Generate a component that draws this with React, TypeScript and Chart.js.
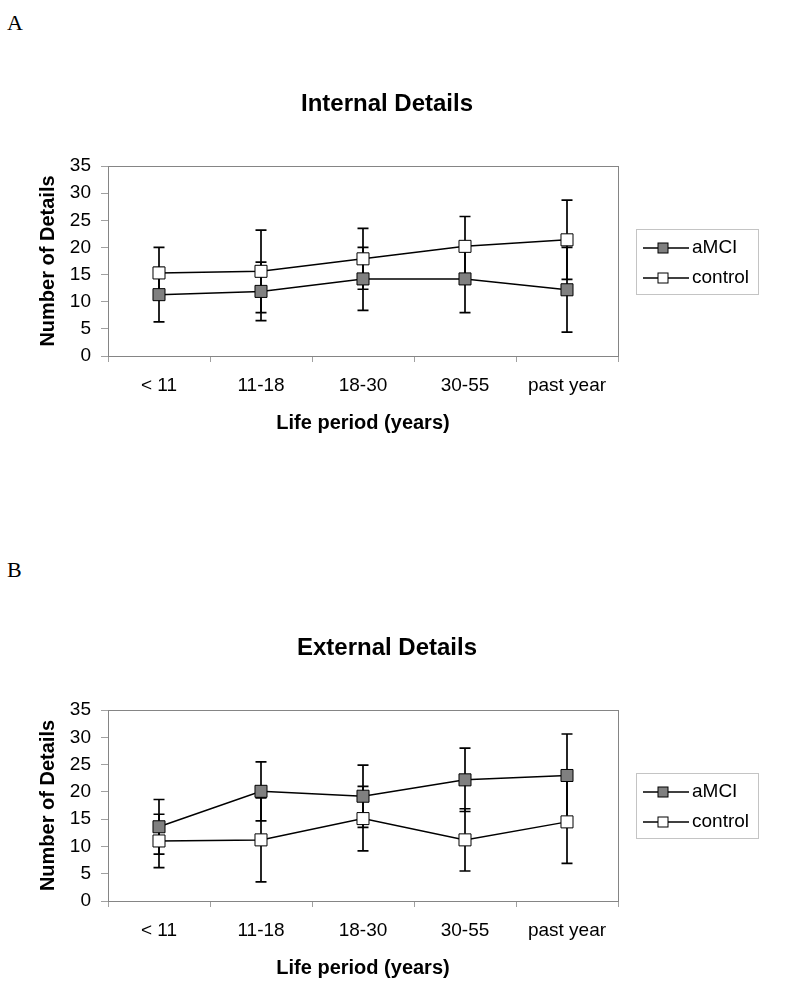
import React, { useEffect, useRef } from 'react';
import { Chart, registerables } from 'chart.js';

Chart.register(...registerables);

const FONT = '"Liberation Sans", Arial, Helvetica, sans-serif';

// ---- data ----
const categories = ['< 11', '11-18', '18-30', '30-55', 'past year'];
const seriesNames = ['aMCI', 'control'];

const internalAmci = [11.3, 11.9, 14.2, 14.2, 12.2];
const internalAmciErr = [5.0, 5.4, 5.8, 6.2, 7.8];
const internalControl = [15.3, 15.6, 17.9, 20.2, 21.4];
const internalControlErr = [4.7, 7.6, 5.6, 5.5, 7.3];

const externalAmci = [13.6, 20.1, 19.2, 22.2, 23.0];
const externalAmciErr = [5.0, 5.4, 5.7, 5.8, 7.6];
const externalControl = [11.0, 11.2, 15.1, 11.2, 14.5];
const externalControlErr = [4.9, 7.7, 5.9, 5.7, 7.6];

const yMin = 0;
const yMax = 35;
const yStep = 5;

// ---- layout ----
const WIDTH = 785;
const PLOT_LEFT = 108;
const PLOT_RIGHT = 618;
const TITLE_X = 387;

const decoPlugin = {
  id: 'deco',
  beforeDatasetsDraw(chart: any) {
    const { ctx, chartArea } = chart;
    const yScale = chart.scales.y;
    // plot frame
    ctx.save();
    ctx.strokeStyle = '#858585';
    ctx.lineWidth = 1;
    ctx.strokeRect(
      Math.round(chartArea.left) + 0.5,
      Math.round(chartArea.top) + 0.5,
      Math.round(chartArea.right - chartArea.left),
      Math.round(chartArea.bottom - chartArea.top)
    );
    ctx.restore();
    // error bars (under the lines and markers)
    chart.data.datasets.forEach((ds: any, di: number) => {
      const meta = chart.getDatasetMeta(di);
      meta.data.forEach((pt: any, i: number) => {
        const v = ds.data[i];
        const e = ds.errors[i];
        const x = pt.x;
        const yHi = yScale.getPixelForValue(v + e);
        const yLo = yScale.getPixelForValue(v - e);
        ctx.save();
        ctx.strokeStyle = '#000';
        ctx.lineWidth = 1.7;
        ctx.beginPath();
        ctx.moveTo(x, yHi);
        ctx.lineTo(x, yLo);
        ctx.moveTo(x - 5.5, yHi);
        ctx.lineTo(x + 5.5, yHi);
        ctx.moveTo(x - 5.5, yLo);
        ctx.lineTo(x + 5.5, yLo);
        ctx.stroke();
        ctx.restore();
      });
    });
  },
  afterDraw(chart: any, _args: any, opts: any) {
    const { ctx, chartArea } = chart;
    // chart title
    ctx.save();
    ctx.fillStyle = '#000';
    ctx.font = `bold 24px ${FONT}`;
    ctx.textAlign = 'center';
    ctx.textBaseline = 'middle';
    ctx.fillText(opts.title, TITLE_X, chartArea.top - 62);
    ctx.restore();
    // legend
    const bx = Math.round(chartArea.right) + 18;
    const by = Math.round(chartArea.top) + 63;
    const bw = 122;
    const bh = 65;
    ctx.save();
    ctx.strokeStyle = '#c4c4c4';
    ctx.lineWidth = 1;
    ctx.strokeRect(bx + 0.5, by + 0.5, bw, bh);
    const rows = [19, 49];
    chart.data.datasets.forEach((ds: any, di: number) => {
      const y = by + rows[di];
      ctx.strokeStyle = '#000';
      ctx.lineWidth = 1.4;
      ctx.beginPath();
      ctx.moveTo(bx + 7, y);
      ctx.lineTo(bx + 53, y);
      ctx.stroke();
      ctx.fillStyle = ds.pointBackgroundColor;
      ctx.fillRect(bx + 22, y - 5, 10, 10);
      ctx.lineWidth = 1;
      ctx.strokeRect(bx + 22, y - 5, 10, 10);
      ctx.fillStyle = '#000';
      ctx.font = `19px ${FONT}`;
      ctx.textAlign = 'left';
      ctx.textBaseline = 'middle';
      ctx.fillText(ds.label, bx + 56, y);
    });
    ctx.restore();
  },
};

type PanelProps = {
  top: number;
  height: number;
  plotTop: number;
  plotBottom: number;
  xTitleY: number;
  title: string;
  amci: number[];
  amciErr: number[];
  control: number[];
  controlErr: number[];
};

function Panel(p: PanelProps) {
  const ref = useRef<HTMLCanvasElement | null>(null);
  useEffect(() => {
    if (!ref.current) return;
    const relTop = p.plotTop - p.top;
    const xAxisH = p.top + p.height - p.plotBottom;
    const xTitleLh = 24;
    const xTitlePadBottom = p.top + p.height - p.xTitleY - xTitleLh / 2;
    const makeDs = (label: string, data: number[], errors: number[], fill: string) =>
      ({
        label,
        data,
        errors,
        borderColor: '#000',
        borderWidth: 1.5,
        pointStyle: 'rect',
        pointRadius: 8.5,
        pointBackgroundColor: fill,
        pointBorderColor: '#000',
        pointBorderWidth: 1,
        tension: 0,
        fill: false,
      } as any);
    const chart = new Chart(ref.current, {
      type: 'line',
      data: {
        labels: categories,
        datasets: [
          makeDs(seriesNames[0], p.amci, p.amciErr, '#808080'),
          makeDs(seriesNames[1], p.control, p.controlErr, '#ffffff'),
        ],
      },
      options: {
        responsive: false,
        animation: false,
        events: [],
        layout: {
          padding: { top: relTop, left: 0, right: WIDTH - PLOT_RIGHT, bottom: 0 },
        },
        plugins: {
          legend: { display: false },
          title: { display: false },
          tooltip: { enabled: false },
          deco: { title: p.title },
        } as any,
        scales: {
          x: {
            type: 'category',
            offset: true,
            grid: {
              offset: true,
              drawOnChartArea: false,
              drawTicks: true,
              tickLength: 6,
              color: '#a0a0a0',
            },
            border: { display: false },
            ticks: {
              color: '#000',
              font: { family: FONT, size: 19 },
              padding: 12,
              maxRotation: 0,
              autoSkip: false,
            },
            title: {
              display: true,
              text: 'Life period (years)',
              color: '#000',
              font: { family: FONT, size: 20, weight: 'bold' },
              padding: { top: 0, bottom: xTitlePadBottom },
            },
            afterFit: (s: any) => {
              s.height = xAxisH;
            },
          },
          y: {
            min: yMin,
            max: yMax,
            grid: {
              drawOnChartArea: false,
              drawTicks: true,
              tickLength: 7,
              color: '#a0a0a0',
            },
            border: { display: false },
            ticks: {
              stepSize: yStep,
              color: '#000',
              font: { family: FONT, size: 19 },
              padding: 10,
            },
            title: {
              display: true,
              text: 'Number of Details',
              color: '#000',
              font: { family: FONT, size: 20, weight: 'bold' },
              padding: { top: 36, bottom: 0 },
            },
            afterFit: (s: any) => {
              s.width = PLOT_LEFT;
            },
          },
        },
      } as any,
      plugins: [decoPlugin as any],
    });
    return () => chart.destroy();
  }, []);
  return (
    <canvas
      ref={ref}
      width={WIDTH}
      height={p.height}
      style={{ position: 'absolute', left: 0, top: p.top, width: WIDTH, height: p.height, display: 'block' }}
    />
  );
}

const letterStyle: React.CSSProperties = {
  position: 'absolute',
  left: 7,
  fontFamily: '"Liberation Serif", "Times New Roman", serif',
  fontSize: 22,
  lineHeight: '22px',
  color: '#000',
};

export default function App() {
  return (
    <div style={{ position: 'absolute', left: 0, top: 0, width: WIDTH, height: 990, background: '#fff', overflow: 'hidden' }}>
      <div style={{ ...letterStyle, top: 12 }}>A</div>
      <Panel
        top={60}
        height={400}
        plotTop={166}
        plotBottom={356}
        xTitleY={423}
        title="Internal Details"
        amci={internalAmci}
        amciErr={internalAmciErr}
        control={internalControl}
        controlErr={internalControlErr}
      />
      <div style={{ ...letterStyle, top: 559 }}>B</div>
      <Panel
        top={600}
        height={390}
        plotTop={710}
        plotBottom={901}
        xTitleY={968}
        title="External Details"
        amci={externalAmci}
        amciErr={externalAmciErr}
        control={externalControl}
        controlErr={externalControlErr}
      />
    </div>
  );
}
